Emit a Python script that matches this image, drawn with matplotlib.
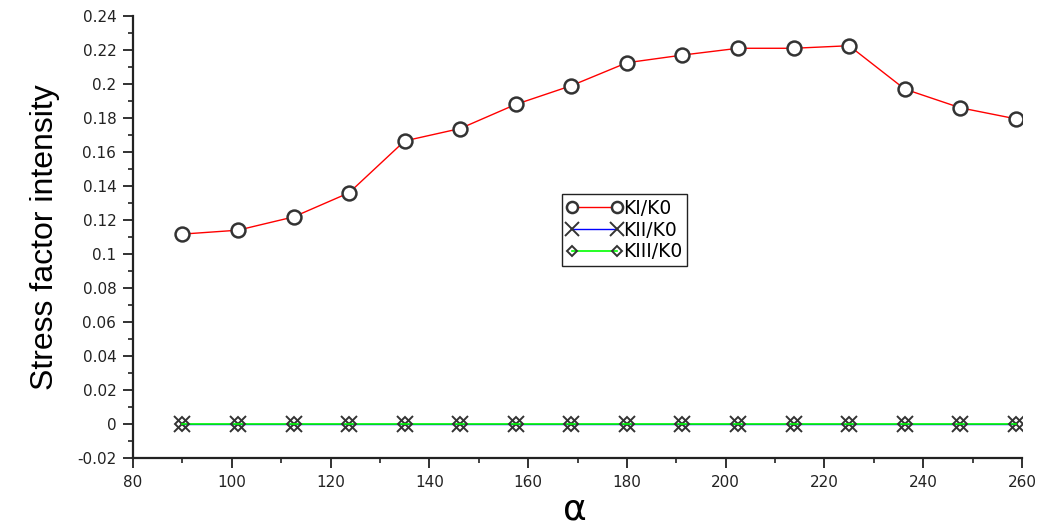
import matplotlib
matplotlib.use("Agg")
import matplotlib.pyplot as plt
from matplotlib.ticker import MultipleLocator, FuncFormatter

# Crack-front angle and normalised stress intensity factors
alpha = [90.0, 101.25, 112.5, 123.75, 135.0, 146.25, 157.5, 168.75,
         180.0, 191.25, 202.5, 213.75, 225.0, 236.25, 247.5, 258.75]
k1_k0 = [0.1117, 0.1140, 0.1218, 0.1360, 0.1665, 0.1738, 0.1880, 0.1990,
         0.2125, 0.2170, 0.2210, 0.2210, 0.2225, 0.1970, 0.1860, 0.1795]
k2_k0 = [0.0] * 16
k3_k0 = [0.0] * 16

x_limits = (80, 260)
y_limits = (-0.02, 0.24)

fig = plt.figure(figsize=(10.4, 5.29), dpi=100)
ax = fig.add_axes([0.1279, 0.1342, 0.8548, 0.8356])

edge = "#333333"
ax.plot(alpha, k1_k0, color="#ff0000", lw=1.0, marker="o", ms=10,
        mfc="white", mec=edge, mew=1.8, label="KI/K0", zorder=3)
ax.plot(alpha, k2_k0, color="#0000ff", lw=1.0, marker="x", ms=12,
        mec=edge, mew=1.4, label="KII/K0", zorder=3)
ax.plot(alpha, k3_k0, color="#00ff00", lw=1.2, marker="D", ms=7,
        mfc="none", mec=edge, mew=1.4, label="KIII/K0", zorder=4)

ax.set_xlim(*x_limits)
ax.set_ylim(*y_limits)

ax.xaxis.set_major_locator(MultipleLocator(20))
ax.xaxis.set_minor_locator(MultipleLocator(10))
ax.yaxis.set_major_locator(MultipleLocator(0.02))
ax.yaxis.set_minor_locator(MultipleLocator(0.01))


def fmt(v, pos):
    s = f"{v:.2f}".rstrip("0").rstrip(".")
    return "0" if s in ("-0", "0") else s


ax.yaxis.set_major_formatter(FuncFormatter(fmt))

for side in ("top", "right"):
    ax.spines[side].set_visible(False)
for side in ("left", "bottom"):
    ax.spines[side].set_linewidth(1.6)
    ax.spines[side].set_color("#222222")

ax.tick_params(which="major", length=7, width=1.3, color="#222222",
               labelsize=11, labelcolor="#222222", pad=5)
ax.tick_params(which="minor", length=3.5, width=1.2, color="#222222")
for lab in ax.get_xticklabels() + ax.get_yticklabels():
    lab.set_family("DejaVu Sans")

ax.set_ylabel("Stress factor intensity", fontsize=23,
              family=["Liberation Sans Narrow", "Liberation Sans"], labelpad=12)
fig.text(0.553, 0.036, "α", fontsize=26, family="DejaVu Sans",
         ha="center", va="center")

leg = ax.legend(loc="upper left", bbox_to_anchor=(0.4826, 0.597),
                numpoints=2, handlelength=3.0, handletextpad=0.0,
                borderpad=0.25, labelspacing=0.15, borderaxespad=0,
                markerscale=0.8, fancybox=False, framealpha=1,
                edgecolor="#222222",
                prop={"family": "DejaVu Sans", "size": 13.5})
leg.get_frame().set_linewidth(1.0)

fig.savefig("out.png", dpi=100, facecolor="white")
